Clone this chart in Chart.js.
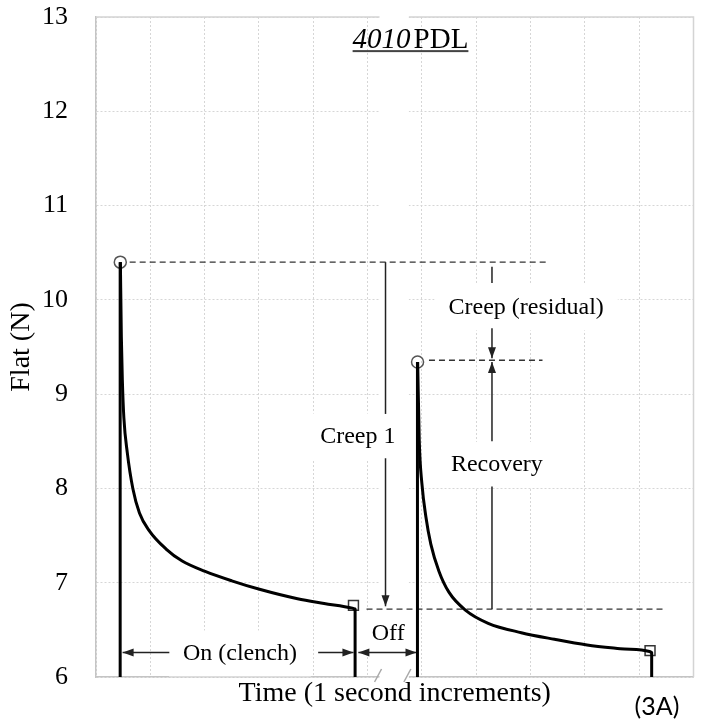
<!DOCTYPE html>
<html>
<head>
<meta charset="utf-8">
<script src="https://cdn.jsdelivr.net/npm/chart.js@4.4.1/dist/chart.umd.min.js"></script>
<style>
  html, body { margin: 0; padding: 0; background: #fff; }
  #wrap { width: 702px; height: 722px; }
</style>
</head>
<body>
<div id="wrap"><canvas id="chart" width="702" height="722"></canvas></div>
<script>
// first clench (On): decay from the peak, time in grid units
const onTime = [0.449, 0.467, 0.485, 0.513, 0.576, 0.678, 0.80, 0.982, 1.285, 1.587, 2.01, 2.50, 3.01, 3.71, 4.20, 4.72, 4.77]
const onForce = [10.40, 9.60, 9.15, 8.75, 8.38, 8.00, 7.74, 7.55, 7.36, 7.23, 7.12, 7.02, 6.93, 6.83, 6.78, 6.73, 6.72]

// second clench after the break (Off)
const reTime = [5.922, 5.951, 6.000, 6.073, 6.164, 6.315, 6.497, 6.80, 7.22, 7.83, 8.44, 9.04, 9.65, 10.19, 10.23]
const reForce = [9.34, 8.51, 8.05, 7.70, 7.41, 7.12, 6.90, 6.71, 6.57, 6.47, 6.40, 6.34, 6.30, 6.27, 6.26]

// load / unload edges
const riseTime = [0.445, 5.918]
const dropTime = [4.77, 10.23]
const baseForce = 6

const peakTime = [0.447, 5.92]
const peakForce = [10.40, 9.34]
const endTime = [4.74, 10.2]
const endForce = [6.76, 6.28]

const yTicks = [6, 7, 8, 9, 10, 11, 12, 13]

const SERIF = '"Liberation Serif", "Times New Roman", serif'

// annotation layer (data units)
const dashLines = [
    { y: 10.40, from: 0.62, to: 8.33 },
    { y: 9.36, from: 6.13, to: 8.22 },
    { y: 6.72, from: 4.98, to: 10.47 }
]
const arrows = [
    { x1: 5.33, y1: 10.40, x2: 5.33, y2: 8.79 },
    { x1: 5.33, y1: 8.32, x2: 5.33, y2: 6.75, head: 'end' },
    { x1: 7.29, y1: 10.35, x2: 7.29, y2: 10.18 },
    { x1: 7.29, y1: 9.70, x2: 7.29, y2: 9.38, head: 'end' },
    { x1: 7.29, y1: 8.50, x2: 7.29, y2: 9.34, head: 'end' },
    { x1: 7.29, y1: 8.02, x2: 7.29, y2: 6.72 },
    { x1: 1.35, y1: 6.26, x2: 0.49, y2: 6.26, head: 'end' },
    { x1: 4.09, y1: 6.26, x2: 4.74, y2: 6.26, head: 'end' },
    { x1: 4.83, y1: 6.26, x2: 5.90, y2: 6.26, head: 'both' }
]
const labels = [
    { text: 'Creep 1', x: 4.82, y: 8.55 },
    { text: 'Creep (residual)', x: 7.92, y: 9.92 },
    { text: 'Recovery', x: 7.38, y: 8.25 },
    { text: 'On (clench)', x: 2.65, y: 6.25 },
    { text: 'Off', x: 5.38, y: 6.46 }
]
const axisBreak = { from: 5.22, to: 5.76 }

function arrowHead(ctx, tx, ty, fx, fy) {
    const ang = Math.atan2(ty - fy, tx - fx)
    const len = 11, half = 4
    ctx.beginPath()
    ctx.moveTo(tx, ty)
    ctx.lineTo(tx - len * Math.cos(ang) + half * Math.sin(ang), ty - len * Math.sin(ang) - half * Math.cos(ang))
    ctx.lineTo(tx - len * Math.cos(ang) - half * Math.sin(ang), ty - len * Math.sin(ang) + half * Math.cos(ang))
    ctx.closePath()
    ctx.fill()
}

const overlay = {
    id: 'overlay',
    beforeDatasetsDraw(chart) {
        const { ctx, chartArea: a, scales: { x, y } } = chart
        ctx.save()

        // blank strip for the broken time axis
        const b1 = x.getPixelForValue(axisBreak.from)
        const b2 = x.getPixelForValue(axisBreak.to)
        ctx.fillStyle = '#fff'
        ctx.fillRect(b1, a.top - 2, b2 - b1, a.bottom - a.top + 4)

        // label backgrounds
        ctx.font = `24px ${SERIF}`
        labels.forEach(l => {
            const w = ctx.measureText(l.text).width + 28
            ctx.fillRect(x.getPixelForValue(l.x) - w / 2, y.getPixelForValue(l.y) - 23, w, 46)
        })

        // frame top / right
        ctx.strokeStyle = '#d4d4d4'
        ctx.lineWidth = 1.5
        ctx.beginPath()
        ctx.moveTo(a.left, a.top); ctx.lineTo(b1, a.top)
        ctx.moveTo(b2, a.top); ctx.lineTo(a.right, a.top); ctx.lineTo(a.right, a.bottom)
        ctx.stroke()

        // break marks
        ctx.strokeStyle = '#a8a8a8'
        ctx.lineWidth = 1.5
        ;[b1, b2].forEach(bx => {
            ctx.beginPath()
            ctx.moveTo(bx - 5, a.bottom + 5)
            ctx.lineTo(bx + 2, a.bottom - 8)
            ctx.stroke()
        })

        // dashed reference lines
        ctx.strokeStyle = '#333'
        ctx.lineWidth = 1.4
        ctx.setLineDash([6, 4])
        dashLines.forEach(d => {
            const py = y.getPixelForValue(d.y)
            ctx.beginPath()
            ctx.moveTo(x.getPixelForValue(d.from), py)
            ctx.lineTo(x.getPixelForValue(d.to), py)
            ctx.stroke()
        })
        ctx.setLineDash([])

        // arrows
        ctx.strokeStyle = '#222'
        ctx.fillStyle = '#222'
        ctx.lineWidth = 1.5
        arrows.forEach(r => {
            const x1 = x.getPixelForValue(r.x1), y1 = y.getPixelForValue(r.y1)
            const x2 = x.getPixelForValue(r.x2), y2 = y.getPixelForValue(r.y2)
            ctx.beginPath()
            ctx.moveTo(x1, y1)
            ctx.lineTo(x2, y2)
            ctx.stroke()
            if (r.head === 'end' || r.head === 'both') arrowHead(ctx, x2, y2, x1, y1)
            if (r.head === 'both') arrowHead(ctx, x1, y1, x2, y2)
        })
        ctx.restore()
    },
    afterDraw(chart) {
        const { ctx, scales: { x, y } } = chart
        ctx.save()
        ctx.fillStyle = '#000'
        ctx.textBaseline = 'middle'
        ctx.textAlign = 'center'
        ctx.font = `24px ${SERIF}`
        labels.forEach(l => ctx.fillText(l.text, x.getPixelForValue(l.x), y.getPixelForValue(l.y)))

        // title: italic number + PDL, underlined
        const italic = `italic 29px ${SERIF}`
        const normal = `29px ${SERIF}`
        ctx.font = italic
        const w1 = ctx.measureText('4010').width + 3
        ctx.font = normal
        const w2 = ctx.measureText('PDL').width
        const cx = x.getPixelForValue(5.79)
        const by = y.getPixelForValue(12.67)
        const left = cx - (w1 + w2) / 2
        ctx.textAlign = 'left'
        ctx.textBaseline = 'alphabetic'
        ctx.font = italic
        ctx.fillText('4010', left, by)
        ctx.font = normal
        ctx.fillText('PDL', left + w1, by)
        ctx.fillStyle = '#444'
        ctx.fillRect(left, by + 2, w1 + w2, 2)

        // panel tag
        ctx.fillStyle = '#000'
        ctx.textAlign = 'center'
        ctx.textBaseline = 'middle'
        ctx.font = '25px Lato, "Liberation Sans", sans-serif'
        ctx.fillText('(3A)', 657, 707)
        ctx.restore()
    }
}

const lineStyle = {
    showLine: true,
    borderColor: '#000',
    borderWidth: 3,
    pointRadius: 0,
    borderJoinStyle: 'round'
}
const curve = { ...lineStyle, cubicInterpolationMode: 'monotone' }

const edges = [
    ...riseTime.map((t, i) => [{ x: t, y: baseForce }, { x: t, y: peakForce[i] }]),
    [{ x: dropTime[0], y: onForce[onForce.length - 1] }, { x: dropTime[0], y: baseForce }],
    [{ x: dropTime[1], y: reForce[reForce.length - 1] }, { x: dropTime[1], y: baseForce }]
]

new Chart(document.getElementById('chart'), {
    type: 'scatter',
    data: {
        datasets: [
            { ...curve, data: onTime.map((t, i) => ({ x: t, y: onForce[i] })) },
            { ...curve, data: reTime.map((t, i) => ({ x: t, y: reForce[i] })) },
            ...edges.map(d => ({ ...lineStyle, data: d })),
            {
                data: peakTime.map((t, i) => ({ x: t, y: peakForce[i] })),
                pointStyle: 'circle', pointRadius: 6,
                borderColor: '#555', borderWidth: 1.5, backgroundColor: 'rgba(0,0,0,0)'
            },
            {
                data: endTime.map((t, i) => ({ x: t, y: endForce[i] })),
                pointStyle: 'rect', pointRadius: 7,
                borderColor: '#333', borderWidth: 1.5, backgroundColor: 'rgba(0,0,0,0)'
            }
        ]
    },
    options: {
        responsive: false,
        animation: false,
        layout: { padding: { top: 17, right: 1, left: 0, bottom: 0 } },
        plugins: { legend: { display: false }, tooltip: { enabled: false } },
        scales: {
            x: {
                type: 'linear', min: 0, max: 11,
                ticks: { display: false, stepSize: 1 },
                grid: { color: '#d6d6d6', drawTicks: false },
                border: { color: '#c4c4c4', width: 1.5, dash: [2, 2] },
                title: {
                    display: true, text: 'Time (1 second increments)', color: '#000',
                    font: { family: SERIF, size: 28 }, padding: { top: 0, bottom: 12 }
                },
                afterFit: s => {
                    s.height = 45
                    s.paddingLeft = 0
                    s.paddingRight = 0
                }
            },
            y: {
                min: 6, max: 13,
                afterBuildTicks: s => { s.ticks = yTicks.map(v => ({ value: v })) },
                ticks: { color: '#000', padding: 28, font: { family: SERIF, size: 26 } },
                grid: { color: '#d6d6d6', drawTicks: false },
                border: { color: '#c4c4c4', width: 1.5, dash: [2, 2] },
                title: {
                    display: true, text: 'Flat (N)', color: '#000',
                    font: { family: SERIF, size: 28 }, padding: { top: 5, bottom: 0 }
                },
                afterFit: s => {
                    s.width = 96
                    s.paddingTop = 0
                    s.paddingBottom = 0
                }
            }
        }
    },
    plugins: [overlay]
})
</script>
</body>
</html>
